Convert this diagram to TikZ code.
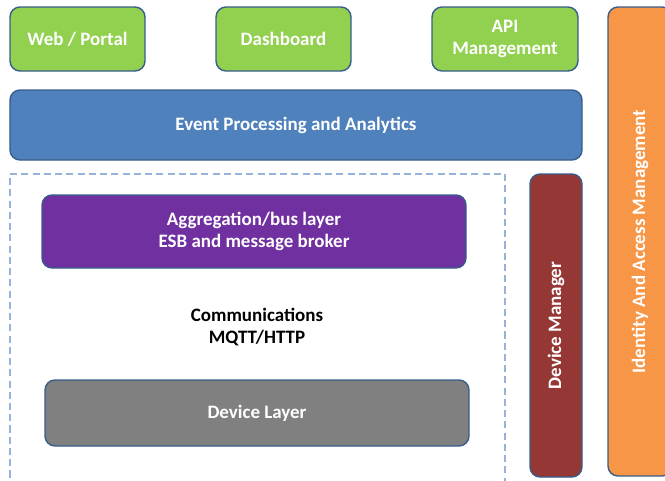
\documentclass[tikz,border=0pt]{standalone}
\usepackage{fontspec}
\setmainfont{Carlito}
\usetikzlibrary{positioning}
\definecolor{appgreen}{HTML}{92D050}
\definecolor{procblue}{HTML}{4F81BD}
\definecolor{busviolet}{HTML}{7030A0}
\definecolor{devgray}{HTML}{808080}
\definecolor{mgrred}{HTML}{953735}
\definecolor{iamorange}{HTML}{F79646}
\definecolor{edgeblue}{HTML}{385D8A}
\definecolor{dashblue}{HTML}{95B3D7}

\begin{document}
\begin{tikzpicture}[
    every node/.style={align=center, font=\fontsize{13.5}{15.6}\selectfont\bfseries},
    layer/.style={rectangle, rounded corners=0.25cm, draw=edgeblue, line width=1pt, text=white},
    app/.style={layer, fill=appgreen, minimum width=3.375cm, minimum height=1.6cm},
    side/.style={layer, rotate=90}
  ]
    \useasboundingbox (0,0) rectangle (16.625,-12);
    \clip (0,0) rectangle (16.625,-12);

    % Top row: applications
    \node[app] (web) at (1.9375,-0.975) {Web / Portal};
    \node[app] (dash) at (7.0875,-0.975) {Dashboard};
    \node[app, minimum width=3.65cm] (api) at (12.625,-0.975) {API\\Management};

    % Processing
    \node[layer, fill=procblue, minimum width=14.3cm, minimum height=1.75cm] (event) at (7.4,-3.125) {Event Processing and Analytics};

    % Edge area (dashed)
    \draw[dashblue, line width=0.8pt, dash pattern=on 5pt off 3pt] (0.25,-12.5) |- (12.625,-4.35) -- (12.625,-12.5);

    \node[layer, fill=busviolet, minimum width=10.6cm, minimum height=1.825cm] (bus) at (6.35,-5.7875) {Aggregation/bus layer\\ESB and message broker};
    \node (comm) at (6.425,-8.175) {Communications\\MQTT/HTTP};
    \node[layer, fill=devgray, minimum width=10.6cm, minimum height=1.65cm] (device) at (6.425,-10.325) {Device Layer};

    % Vertical bars
    \node[side, fill=mgrred, minimum width=7.575cm, minimum height=1.3cm] (mgr) at (13.9,-8.1375) {Device Manager};
    \node[side, fill=iamorange, minimum width=11.725cm, minimum height=1.6cm] (iam) at (16.0,-6.0375) {Identity And Access Management};
\end{tikzpicture}
\end{document}
